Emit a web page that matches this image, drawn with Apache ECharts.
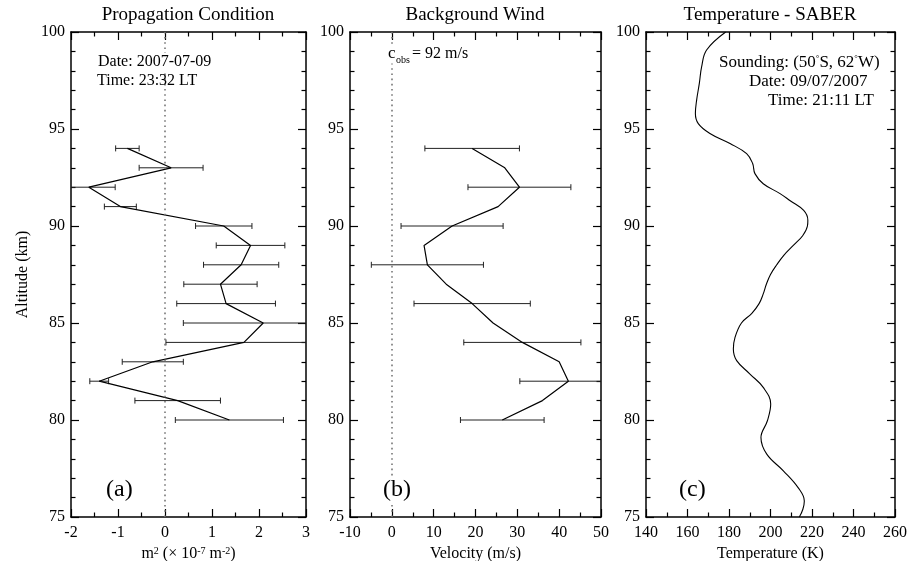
<!DOCTYPE html>
<html><head><meta charset="utf-8">
<script src="https://cdn.jsdelivr.net/npm/echarts@6/dist/echarts.min.js"></script>
<style>html,body{margin:0;padding:0;background:#fff}#c{width:909px;height:561px}</style>
</head><body><div id="c"></div>
<script>
// ---------- DATA ----------
// Panel (a): Propagation condition m^2 (x 10^-7 m^-2)
const altitudeA = [80, 81, 82, 83, 84, 85, 86, 87, 88, 89, 90, 91, 92, 93, 94];
const mSquared  = [1.37, 0.27, -1.40, -0.26, 1.68, 2.09, 1.30, 1.18, 1.62, 1.82, 1.25, -0.95, -1.62, 0.13, -0.80];
const mSquaredErr = [1.15, 0.91, 0.20, 0.65, 1.66, 1.70, 1.05, 0.78, 0.80, 0.73, 0.60, 0.34, 0.56, 0.68, 0.25];

// Panel (b): Background wind velocity (m/s)
const altitudeB = [80, 81, 82, 83, 84, 85, 86, 87, 88, 89, 90, 91, 92, 93, 94];
const velocity  = [26.4, 36.0, 42.2, 40.0, 31.2, 24.2, 19.2, 13.0, 8.5, 7.7, 14.4, 25.4, 30.5, 27.0, 19.2];
const velocityErr = [10.0, null, 11.6, null, 14.0, null, 13.9, null, 13.4, null, 12.2, null, 12.3, null, 11.3];
const cObs = 0; // reference dotted line drawn at 0

// Panel (c): SABER temperature (K)
const altitudeC = [75.0, 75.4, 75.83, 76.5, 77.38, 78.24, 79.1, 79.96, 80.82, 81.68, 82.37, 83.06, 83.66, 84.26, 85.0, 85.5, 86.0, 86.5, 87.0, 87.5, 88.0, 88.5, 89.0, 89.5, 90.0, 90.3, 90.8, 91.3, 91.67, 92.18, 92.7, 93.22, 93.73, 94.25, 94.77, 95.28, 95.8, 96.49, 97.35, 98.2, 99.07, 100.0];
const temperature = [213.9, 215.6, 216.3, 213.4, 206.2, 198.2, 195.4, 198.5, 200.1, 196.5, 190.1, 183.7, 182.1, 182.9, 186.0, 191.0, 194.5, 196.5, 198.0, 200.0, 203.0, 206.5, 211.0, 215.5, 217.8, 218.0, 216.0, 209.5, 204.6, 196.5, 192.5, 191.4, 188.5, 180.5, 170.8, 165.2, 163.8, 164.4, 165.7, 166.8, 169.2, 178.4];

// Axis ranges / ticks
const altRange = [75, 100, 5];
const xRangeA = [-2, 3, 1];
const xRangeB = [-10, 50, 10];
const xRangeC = [140, 260, 20];

// ---------- CHART ----------
const FONT = 'Liberation Serif';
const chart = echarts.init(document.getElementById('c'), null, {renderer: 'canvas'});

const grids = [
  {left: 71, top: 32, width: 235, height: 485, outerBoundsMode: 'none', containLabel: false},
  {left: 350, top: 32, width: 251, height: 485, outerBoundsMode: 'none', containLabel: false},
  {left: 646, top: 32, width: 249, height: 485, outerBoundsMode: 'none', containLabel: false}
];

function mkX(gi, range, minorSplit, pos, name, nameRich) {
  return {
    type: 'value', gridIndex: gi, position: pos,
    min: range[0], max: range[1], interval: range[2],
    axisLine: {show: true, onZero: false, lineStyle: {color: '#000', width: 1.5}},
    axisTick: {show: true, inside: true, length: 8, lineStyle: {color: '#000', width: 1.2}},
    minorTick: {show: true, splitNumber: minorSplit, length: 4.5, lineStyle: {color: '#000', width: 1.2}},
    splitLine: {show: false}, minorSplitLine: {show: false},
    axisLabel: {show: pos === 'bottom', color: '#000', fontFamily: FONT, fontSize: 16, margin: 8},
    name: pos === 'bottom' ? name : '',
    nameLocation: 'middle', nameGap: 24,
    nameTextStyle: Object.assign({color: '#000', fontFamily: FONT, fontSize: 16}, nameRich ? {rich: nameRich} : {})
  };
}
function mkY(gi, pos, name) {
  return {
    type: 'value', gridIndex: gi, position: pos,
    min: altRange[0], max: altRange[1], interval: altRange[2],
    axisLine: {show: true, onZero: false, lineStyle: {color: '#000', width: 1.5}},
    axisTick: {show: true, inside: true, length: 8, lineStyle: {color: '#000', width: 1.2}},
    minorTick: {show: true, splitNumber: 5, length: 4.5, lineStyle: {color: '#000', width: 1.2}},
    splitLine: {show: false}, minorSplitLine: {show: false},
    axisLabel: {show: pos === 'left', color: '#000', fontFamily: FONT, fontSize: 16, margin: 6},
    name: name || '', nameLocation: 'middle', nameGap: 40, nameRotate: 90,
    nameTextStyle: {color: '#000', fontFamily: FONT, fontSize: 16}
  };
}

const richA = {
  t: {fontFamily: FONT, fontSize: 16, color: '#000'},
  sup: {fontFamily: FONT, fontSize: 10, color: '#000', verticalAlign: 'top'}
};

const xAxes = [
  mkX(0, xRangeA, 2, 'bottom', '{t|m}{sup|2}{t| (× 10}{sup|-7}{t| m}{sup|-2}{t|)}', richA),
  mkX(0, xRangeA, 2, 'top'),
  mkX(1, xRangeB, 2, 'bottom', 'Velocity (m/s)'),
  mkX(1, xRangeB, 2, 'top'),
  mkX(2, xRangeC, 2, 'bottom', 'Temperature (K)'),
  mkX(2, xRangeC, 2, 'top')
];
const yAxes = [
  mkY(0, 'left', 'Altitude (km)'), mkY(0, 'right'),
  mkY(1, 'left'), mkY(1, 'right'),
  mkY(2, 'left'), mkY(2, 'right')
];

function errorBarRender(params, api) {
  const x = api.value(0), y = api.value(1), e = api.value(2);
  const p1 = api.coord([x - e, y]);
  const p2 = api.coord([x + e, y]);
  const cs = params.coordSys;
  const xmin = cs.x, xmax = cs.x + cs.width;
  let lx = p1[0], rx = p2[0];
  const capL = lx >= xmin - 0.5, capR = rx <= xmax + 0.5;
  lx = Math.max(lx, xmin); rx = Math.min(rx, xmax);
  const yy = p1[1];
  const st = {stroke: '#222', lineWidth: 1};
  const children = [{type: 'line', shape: {x1: lx, y1: yy, x2: rx, y2: yy}, style: st}];
  if (capL) children.push({type: 'line', shape: {x1: lx, y1: yy - 3, x2: lx, y2: yy + 3}, style: st});
  if (capR) children.push({type: 'line', shape: {x1: rx, y1: yy - 3, x2: rx, y2: yy + 3}, style: st});
  return {type: 'group', children: children};
}

const dotted = {
  silent: true, symbol: 'none', animation: false,
  label: {show: false},
  lineStyle: {color: '#777', width: 1.6, type: [1.6, 3.6]},
  data: [{xAxis: cObs}]
};

const series = [
  {
    type: 'line', xAxisIndex: 0, yAxisIndex: 0, symbol: 'none', animation: false,
    lineStyle: {color: '#000', width: 1.2},
    data: altitudeA.map((a, i) => [mSquared[i], a]),
    markLine: dotted, z: 3
  },
  {
    type: 'custom', xAxisIndex: 0, yAxisIndex: 0, animation: false, clip: false,
    renderItem: errorBarRender,
    data: altitudeA.map((a, i) => [mSquared[i], a, mSquaredErr[i]]), z: 2
  },
  {
    type: 'line', xAxisIndex: 2, yAxisIndex: 2, symbol: 'none', animation: false,
    lineStyle: {color: '#000', width: 1.2},
    data: altitudeB.map((a, i) => [velocity[i], a]),
    markLine: dotted, z: 3
  },
  {
    type: 'custom', xAxisIndex: 2, yAxisIndex: 2, animation: false, clip: false,
    renderItem: errorBarRender,
    data: altitudeB.map((a, i) => [velocity[i], a, velocityErr[i]]).filter(d => d[2] != null), z: 2
  },
  {
    type: 'line', xAxisIndex: 4, yAxisIndex: 4, symbol: 'none', animation: false, smooth: 0.4,
    lineStyle: {color: '#000', width: 1.1},
    data: altitudeC.map((a, i) => [temperature[i], a])
  }
];

function txt(x, y, text, size, align, extra) {
  return {
    type: 'text', x: x, y: y, z: 100,
    style: Object.assign({
      text: text, fill: '#000', font: size + 'px "' + FONT + '"',
      textAlign: align || 'left', textVerticalAlign: 'middle'
    }, extra || {})
  };
}
const whiteBg = {backgroundColor: '#fff', padding: [1, 1, 1, 1]};

const graphics = [
  txt(188, 15, 'Propagation Condition', 19, 'center'),
  txt(475, 15, 'Background Wind', 19, 'center'),
  txt(770, 15, 'Temperature - SABER', 19, 'center'),
  txt(97, 62, 'Date: 2007-07-09', 16, 'left', whiteBg),
  txt(97, 81, 'Time: 23:32 LT', 16, 'left'),
  txt(387, 54, 'c', 17, 'left', whiteBg),
  txt(395, 60, 'obs', 10, 'left', whiteBg),
  txt(411, 54, '= 92 m/s', 16, 'left', whiteBg),
  txt(719, 63, 'Sounding: (50{s|°}S, 62{s|°}W)', 17, 'left', {rich: {s: {fontSize: 9, fontFamily: FONT, verticalAlign: 'top'}}}),
  txt(749, 82, 'Date: 09/07/2007', 17, 'left'),
  txt(768, 101, 'Time: 21:11 LT', 17, 'left'),
  txt(106, 490, '(a)', 24, 'left'),
  txt(382, 490, '(b)', 24, 'left', {backgroundColor: '#fff', padding: [0, 1, 0, 1]}),
  txt(679, 490, '(c)', 24, 'left')
];

chart.setOption({
  backgroundColor: '#fff',
  animation: false,
  grid: grids,
  xAxis: xAxes,
  yAxis: yAxes,
  series: series,
  graphic: {elements: graphics}
});
</script>
</body></html>
